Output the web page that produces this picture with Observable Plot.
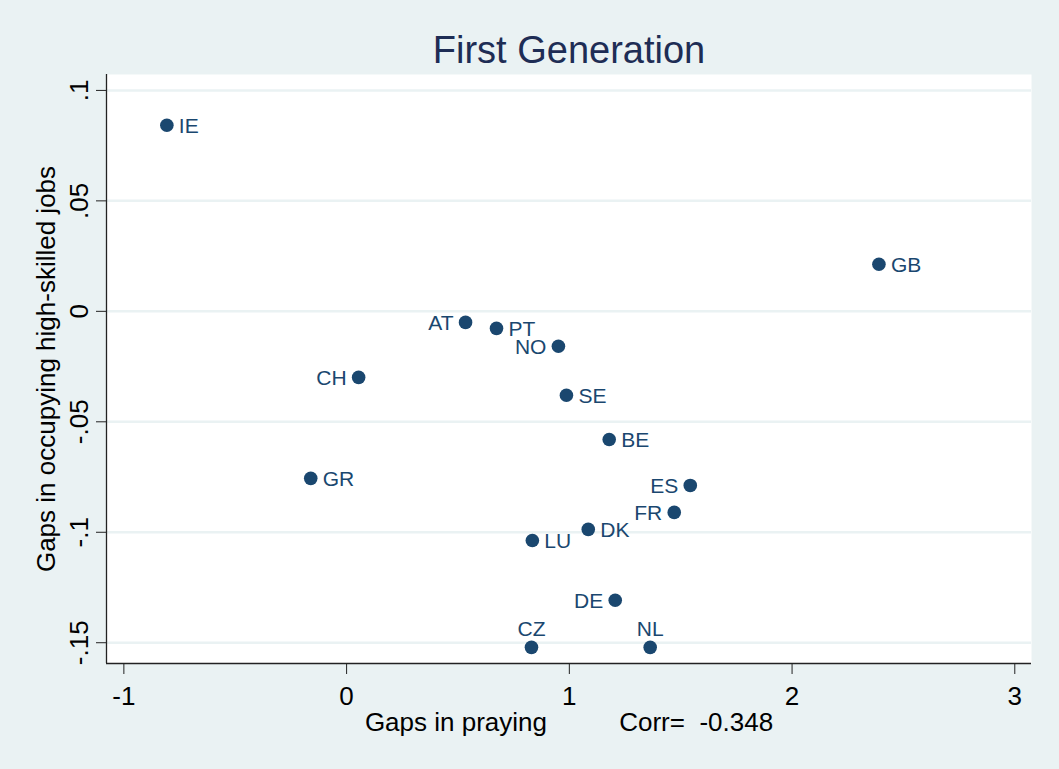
<!DOCTYPE html>
<html><head><meta charset="utf-8">
<script src="https://cdn.jsdelivr.net/npm/d3@7"></script>
<script src="https://cdn.jsdelivr.net/npm/@observablehq/plot@0.6"></script>
<style>
html,body{margin:0;padding:0;background:#EAF2F3;}
#chart{width:1059px;height:769px;}
</style>
</head><body><div id="chart"></div>
<script>
const countries = ["IE","GB","AT","PT","NO","CH","SE","BE","GR","ES","FR","DK","LU","DE","CZ","NL"];
const prayingGap = [-0.807, 2.39, 0.534, 0.673, 0.951, 0.054, 0.987, 1.179, -0.161, 1.543, 1.471, 1.085, 0.834, 1.206, 0.830, 1.363];
const jobsGap = [0.0842, 0.0213, -0.0050, -0.0077, -0.0158, -0.0299, -0.0380, -0.0580, -0.0756, -0.0788, -0.0910, -0.0987, -0.1037, -0.1308, -0.1521, -0.1521];
const labelSide = ["right","right","left","right","left","left","right","right","right","left","left","right","right","left","top","top"];
const xTicks = [-1, 0, 1, 2, 3];
const xTickLabels = ["-1", "0", "1", "2", "3"];
const yTicks = [0.1, 0.05, 0, -0.05, -0.1, -0.15];
const yTickLabels = [".1", ".05", "0", "-.05", "-.1", "-.15"];
const titleText = "First Generation";
const xTitle = "Gaps in praying" + "\u00A0".repeat(10) + "Corr=\u00A0\u00A0-0.348";
const yTitle = "Gaps in occupying high-skilled jobs";

const xDomain = [-1.078, 3.075];
const yDomain = [-0.1594, 0.1072];
const navy = "#1A476F";
const bg = "#EAF2F3";
const idx = d3.range(countries.length);
const side = s => idx.filter(i => labelSide[i] === s);
const X = i => prayingGap[i], Y = i => jobsGap[i], T = i => countries[i];

const chart = Plot.plot({
  width: 1059, height: 769,
  marginLeft: 106, marginRight: 28, marginTop: 74, marginBottom: 106,
  style: {background: bg, fontFamily: "'Liberation Sans', Arial, sans-serif", fontSize: "26px", color: "#000"},
  x: {domain: xDomain},
  y: {domain: yDomain},
  marks: [
    Plot.frame({fill: "white", stroke: null}),
    Plot.ruleY(yTicks, {stroke: bg, strokeWidth: 2.5}),
    Plot.ruleX([xDomain[0]], {stroke: "#222", strokeWidth: 1.3}),
    Plot.ruleY([yDomain[0]], {stroke: "#222", strokeWidth: 1.3}),
    Plot.axisX({ticks: xTicks, tickSize: 11, tickPadding: 12, tickFormat: d => xTickLabels[xTicks.indexOf(d)], stroke: "#222", fill: "#000", fontSize: 26, label: null}),
    Plot.axisY({ticks: yTicks, tickSize: 10, tickPadding: 9, tickRotate: -90, tickFormat: d => yTickLabels[yTicks.indexOf(d)], stroke: "#222", fill: "#000", fontSize: 26, label: null}),
    Plot.dot(idx, {x: X, y: Y, r: 6.8, fill: navy, stroke: null}),
    Plot.text(side("right"), {x: X, y: Y, text: T, dx: 12, dy: 1, textAnchor: "start", fill: navy, fontSize: 21}),
    Plot.text(side("left"), {x: X, y: Y, text: T, dx: -12, dy: 1, textAnchor: "end", fill: navy, fontSize: 21}),
    Plot.text(side("top"), {x: X, y: Y, text: T, dy: -11, lineAnchor: "bottom", textAnchor: "middle", fill: navy, fontSize: 21}),
    Plot.text([titleText], {frameAnchor: "top", dy: -12, lineAnchor: "bottom", textAnchor: "middle", fill: "#1E2D55", fontSize: 38}),
    Plot.text([xTitle], {frameAnchor: "bottom", dy: 67, lineAnchor: "bottom", textAnchor: "middle", fill: "#000", fontSize: 26}),
    Plot.text([yTitle], {frameAnchor: "left", dx: -60, rotate: -90, lineAnchor: "middle", textAnchor: "middle", fill: "#000", fontSize: 26})
  ]
});
document.getElementById("chart").appendChild(chart);
</script>
</body></html>
